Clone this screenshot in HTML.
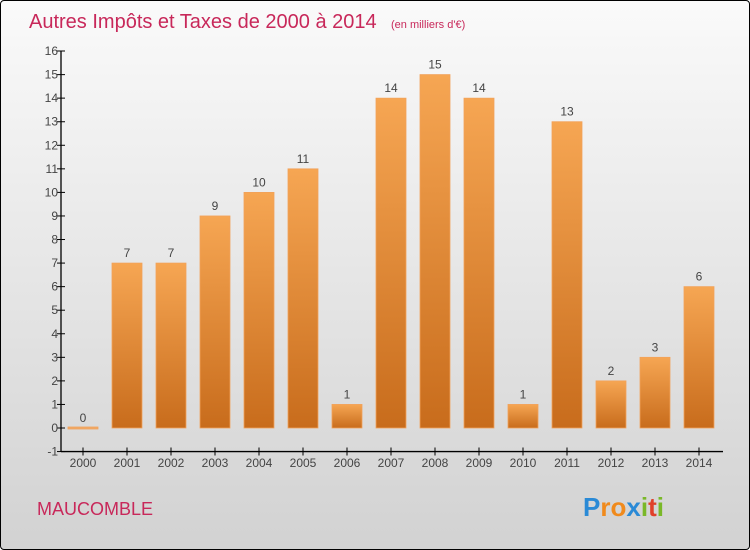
<!DOCTYPE html>
<html><head><meta charset="utf-8"><style>
html,body{margin:0;padding:0}
body{width:750px;height:550px;overflow:hidden;font-family:"Liberation Sans",sans-serif}
#wrap{position:absolute;left:0;top:0;width:748px;height:548px;border:1px solid #000;border-radius:4px;background:linear-gradient(#fafafa,#d2d2d2);overflow:hidden}
</style></head><body>
<div id="wrap">
<svg id="chart" width="750" height="550"></svg>
</div>
<script>
const years=["2000","2001","2002","2003","2004","2005","2006","2007","2008","2009","2010","2011","2012","2013","2014"];
const values=[0,7,7,9,10,11,1,14,15,14,1,13,2,3,6];
const yTicks=[-1,0,1,2,3,4,5,6,7,8,9,10,11,12,13,14,15,16];
const NS="http://www.w3.org/2000/svg";
const svg=document.getElementById('chart');
function y(v){return 427-v*23.56;}
function x(i){return 82+i*44;}
function mk(tag,attrs,parent){const e=document.createElementNS(NS,tag);for(const k in attrs)e.setAttribute(k,attrs[k]);(parent||svg).appendChild(e);return e;}
const defs=mk('defs',{});
const g=mk('linearGradient',{id:'bg',x1:0,y1:0,x2:0,y2:1},defs);
mk('stop',{offset:'0','stop-color':'#f6a653'},g);
mk('stop',{offset:'1','stop-color':'#c86c1c'},g);
const title=mk('text',{x:28,y:27,'font-size':20,fill:'#c8285a'});
title.textContent='Autres Impôts et Taxes de 2000 à 2014';


const sub=mk('text',{x:390,y:27,'font-size':11,fill:'#c8285a'});
sub.textContent='(en milliers d\'€)';


yTicks.forEach(t=>{
  const l=mk('line',{x1:56,x2:64,y1:y(t),y2:y(t),stroke:'#000'});
  
  
  const tx=mk('text',{x:57,y:y(t)+4,'font-size':12,fill:'#444','text-anchor':'end'});
  tx.textContent=t;
  
  
});
const ya=mk('line',{x1:60,x2:60,y1:y(16),y2:y(-1),stroke:'#000','stroke-width':1.3});


const xa=mk('line',{x1:60,x2:722,y1:y(-1),y2:y(-1),stroke:'#000','stroke-width':1.3});


years.forEach((yr,i)=>{
  const cx=x(i),v=values[i];
  const t=mk('line',{x1:cx,x2:cx,y1:y(-1)-4,y2:y(-1)+4,stroke:'#000'});
  
  
  const lb=mk('text',{x:cx,y:466,'font-size':12,fill:'#444','text-anchor':'middle'});
  lb.textContent=yr;
  
  
  const h=Math.max(Math.abs(y(v)-y(0)),2);
  const b=mk('rect',{x:cx-15,y:v>0?y(v):y(0)-1,width:30,height:h,fill:v>0?'url(#bg)':'#f0a868',stroke:'#f2a25a','stroke-width':0.8});
  
  
  const vl=mk('text',{x:cx,y:y(v)-6,'font-size':12,fill:'#444','text-anchor':'middle'});
  vl.textContent=v;
  
  
});
const m=mk('text',{x:36,y:514,'font-size':18,fill:'#c8285a'});
m.textContent='MAUCOMBLE';


const logo=mk('text',{x:582,y:515,'font-size':26,'font-weight':'bold'});


[['P','#2a8ad6'],['r','#f08a1c'],['o','#f08a1c'],['x','#2a8ad6'],['i','#7ab828'],['t','#e0402a'],['i','#7ab828']].forEach(([c,f])=>{const s=mk('tspan',{fill:f},logo);s.textContent=c;});
</script>
</body></html>
